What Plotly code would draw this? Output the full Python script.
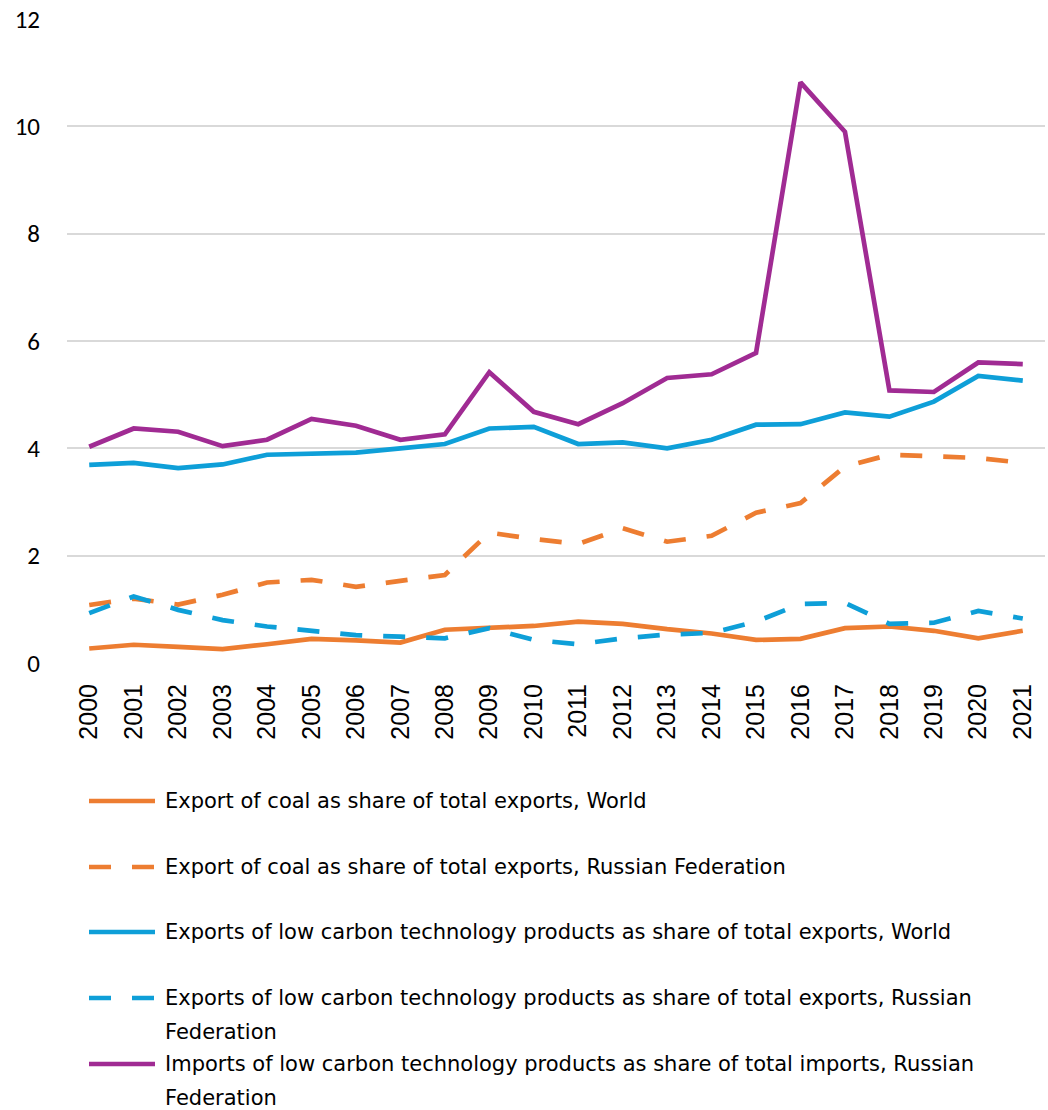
import plotly.graph_objects as go

# Years on the category axis
years = [str(y) for y in range(2000, 2022)]

# Shares, percent
coal_world = [0.27, 0.34, 0.30, 0.26, 0.35, 0.45, 0.42, 0.38, 0.62, 0.65, 0.69,
              0.77, 0.73, 0.63, 0.55, 0.43, 0.45, 0.65, 0.68, 0.60, 0.46, 0.60]
coal_russia = [1.08, 1.20, 1.09, 1.27, 1.50, 1.55, 1.42, 1.53, 1.64, 2.43, 2.31,
               2.22, 2.51, 2.26, 2.37, 2.80, 2.98, 3.66, 3.88, 3.85, 3.82, 3.73]
lct_exp_world = [3.69, 3.73, 3.63, 3.70, 3.88, 3.91, 3.92, 4.00, 4.08, 4.37, 4.40,
                 4.08, 4.11, 4.00, 4.16, 4.44, 4.45, 4.67, 4.59, 4.87, 5.35, 5.26]
lct_exp_russia = [0.93, 1.24, 0.99, 0.80, 0.68, 0.60, 0.52, 0.49, 0.46, 0.65, 0.43,
                  0.35, 0.46, 0.53, 0.56, 0.77, 1.10, 1.12, 0.73, 0.75, 0.97, 0.83]
lct_imp_russia = [4.03, 4.37, 4.31, 4.04, 4.16, 4.55, 4.42, 4.16, 4.26, 5.42, 4.68,
                  4.45, 4.84, 5.31, 5.38, 5.78, 10.82, 9.90, 5.08, 5.05, 5.60, 5.57]

y_ticks = [0, 2, 4, 6, 8, 10, 12]

labels = [
    ["Export of coal as share of total exports, World"],
    ["Export of coal as share of total exports, Russian Federation"],
    ["Exports of low carbon technology products as share of total exports, World"],
    ["Exports of low carbon technology products as share of total exports, Russian", "Federation"],
    ["Imports of low carbon technology products as share of total imports, Russian", "Federation"],
]

ORANGE = "#ED7D31"
BLUE = "#0E9FD8"
PURPLE = "#A02B93"
DASH = "22px,21px"

series = [
    (coal_world, ORANGE, "solid"),
    (coal_russia, ORANGE, DASH),
    (lct_exp_world, BLUE, "solid"),
    (lct_exp_russia, BLUE, DASH),
    (lct_imp_russia, PURPLE, "solid"),
]

W, H = 1048, 1110
ML, MR, MT, MB = 67, 3, 19, 447
PLOT_H = H - MT - MB

fig = go.Figure()
for (vals, color, dash), lab in zip(series, labels):
    fig.add_trace(go.Scatter(
        x=years, y=vals, mode="lines", name=" ".join(lab),
        line=dict(color=color, width=4.7, dash=dash),
        showlegend=False,
    ))


def py(pix):
    # convert a page pixel row to paper coordinates
    return (H - MB - pix) / PLOT_H


def px(pix):
    return (pix - ML) / (W - ML - MR)


# Legend drawn below the plot
TEXT_FONT = dict(family="DejaVu Sans, Verdana, sans-serif", size=21, color="#000000")
row_y = [801, 867, 932, 998, 1064]
for (vals, color, dash), lab, ry in zip(series, labels, row_y):
    fig.add_shape(type="line", xref="paper", yref="paper",
                  x0=px(89), x1=px(155), y0=py(ry), y1=py(ry),
                  line=dict(color=color, width=4.7, dash=dash))
    for i, line in enumerate(lab):
        fig.add_annotation(xref="paper", yref="paper", x=px(163), y=py(ry + 34 * i),
                           text=line, showarrow=False, xanchor="left", yanchor="middle",
                           font=TEXT_FONT)

fig.update_layout(
    width=W, height=H,
    margin=dict(l=ML, r=MR, t=MT, b=MB),
    paper_bgcolor="white", plot_bgcolor="white",
    showlegend=False,
    xaxis=dict(
        type="category", range=[-0.5, 21.5],
        tickangle=-90, showgrid=False, zeroline=False, showline=False,
        ticks="", ticklabelstandoff=15,
        tickfont=dict(family="Liberation Sans, Arial, sans-serif", size=25, color="#000000"),
    ),
    yaxis=dict(
        range=[0, 12], tickvals=y_ticks, showgrid=True, gridcolor="#D9D9D9", gridwidth=1.5,
        zeroline=False, showline=False, ticks="", ticklabelstandoff=26,
        tickfont=dict(family="Carlito, Calibri, Lato, sans-serif", size=25, color="#000000"),
    ),
)

fig.write_html("out.html")
